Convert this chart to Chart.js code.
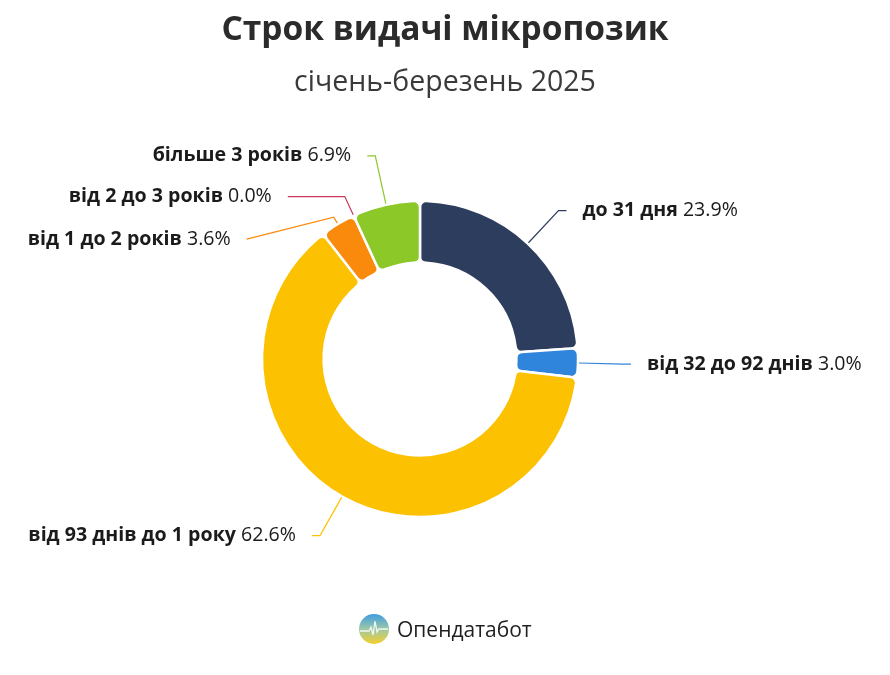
<!DOCTYPE html>
<html>
<head>
<meta charset="utf-8">
<script src="https://cdn.jsdelivr.net/npm/chart.js@4"></script>
<style>
  html, body { margin: 0; padding: 0; background: #fff; }
  #wrap { position: relative; width: 890px; height: 675px; font-family: "Open Sans", "Noto Sans", sans-serif; }
  #title { position: absolute; left: 0; width: 890px; top: 3px; text-align: center; font-size: 33.5px; font-weight: 700; color: #2b2b2b; line-height: 48px; }
  #subtitle { position: absolute; left: 0; width: 890px; top: 60px; text-align: center; font-size: 28.5px; font-weight: 500; color: #3a3a3a; line-height: 40px; }
  #logo { position: absolute; left: 358px; top: 613px; display: flex; align-items: center; }
  #logo span { font-size: 21px; color: #1f1f1f; margin-left: 7px; font-weight: 500; }
  #cv { position: absolute; left: 0; top: 0; }
</style>
</head>
<body>
<div id="wrap">
  <canvas id="cv"></canvas>
  <div id="title">Строк видачі мікропозик</div>
  <div id="subtitle">січень-березень 2025</div>
  <div id="logo">
    <svg width="32" height="32" viewBox="0 0 32 32">
      <defs>
        <linearGradient id="g" x1="0" y1="0" x2="0" y2="1">
          <stop offset="0" stop-color="#3f9be0"/>
          <stop offset="0.5" stop-color="#9cc9a8"/>
          <stop offset="1" stop-color="#f6cf2c"/>
        </linearGradient>
      </defs>
      <circle cx="16" cy="16" r="15" fill="url(#g)"/>
      <polyline points="2,18 11,18 13,14 15,22 17,8 19,19 21,16 30,16" fill="none" stroke="#fff" stroke-width="1.3" opacity="0.85"/>
    </svg>
    <span>Опендатабот</span>
  </div>
</div>
<script>
const categories = ["до 31 дня", "від 32 до 92 днів", "від 93 днів до 1 року", "від 1 до 2 років", "від 2 до 3 років", "більше 3 років"];
const shares = [23.9, 3.0, 62.6, 3.6, 0.0, 6.9];
const colors = ["#2c3d5d", "#2f84db", "#fcc201", "#f98a0c", "#c93a5b", "#8cc828"];
// connector layout per label: extra radius to elbow, horizontal length, vertical drop at end
const connExtra = [45, 45, 45, 8, 21, 50];
const connHLen = [8, 8, 8, 87, 57, 8];
const connDrop = [0, 0, 0, 22, 0, 0];

const labelPlugin = {
  id: 'outLabels',
  afterDatasetsDraw(chart) {
    const ctx = chart.ctx;
    const meta = chart.getDatasetMeta(0);
    meta.data.forEach((arc, i) => {
      const p = arc.getProps(['x', 'y', 'startAngle', 'endAngle', 'outerRadius'], true);
      const mid = (p.startAngle + p.endAngle) / 2;
      const c = Math.cos(mid), s = Math.sin(mid);
      const r0 = p.outerRadius + 1;
      const r1 = p.outerRadius + connExtra[i];
      const ax = p.x + c * r0, ay = p.y + s * r0;
      const ex = p.x + c * r1, ey = p.y + s * r1;
      const side = c >= 0 ? 1 : -1;
      const tx = ex + side * connHLen[i], ty = ey + connDrop[i];
      ctx.save();
      ctx.strokeStyle = colors[i];
      ctx.lineWidth = 1.2;
      ctx.beginPath();
      ctx.moveTo(ax, ay);
      ctx.lineTo(ex, ey);
      ctx.lineTo(tx, ty);
      ctx.stroke();
      const boldFont = '700 19.6px "Open Sans", "Noto Sans", sans-serif';
      const normFont = '400 19.6px "Open Sans", "Noto Sans", sans-serif';
      const name = categories[i] + ' ';
      const pct = shares[i].toFixed(1) + '%';
      ctx.font = boldFont;
      const wName = ctx.measureText(name).width;
      ctx.font = normFont;
      const wPct = ctx.measureText(pct).width;
      let x0 = side > 0 ? tx + 16 : tx - 16 - wName - wPct;
      ctx.textBaseline = 'middle';
      ctx.textAlign = 'left';
      ctx.fillStyle = '#1b1b1b';
      ctx.font = boldFont;
      ctx.fillText(name, x0, ty);
      ctx.font = normFont;
      ctx.fillText(pct, x0 + wName, ty);
      ctx.restore();
    });
  }
};

new Chart(document.getElementById('cv'), {
  type: 'doughnut',
  data: {
    labels: categories,
    datasets: [{
      data: shares,
      backgroundColor: colors,
      borderColor: '#ffffff',
      borderWidth: 2.5,
      borderRadius: 6,
      hoverOffset: 0
    }]
  },
  options: {
    responsive: true,
    maintainAspectRatio: false,
    animation: false,
    radius: 158,
    cutout: '61%',
    layout: { padding: { left: 100, right: 150, top: 150, bottom: 107 } },
    plugins: {
      legend: { display: false },
      tooltip: { enabled: false }
    },
    events: []
  },
  plugins: [labelPlugin]
});
</script>
</body>
</html>
